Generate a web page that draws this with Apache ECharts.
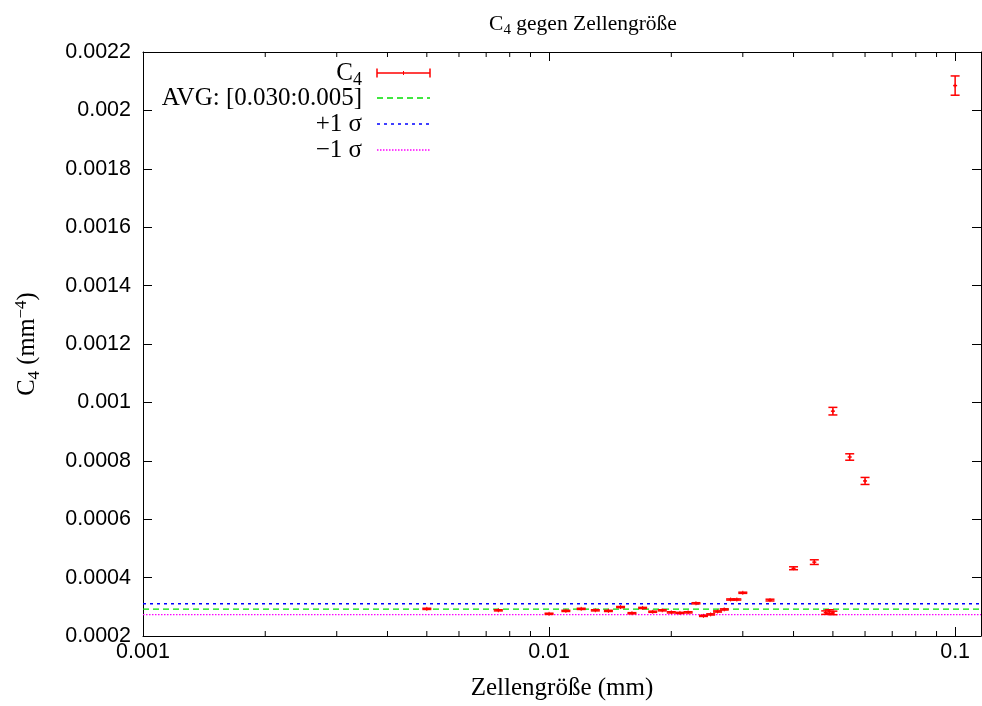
<!DOCTYPE html>
<html>
<head>
<meta charset="utf-8">
<script src="https://cdn.jsdelivr.net/npm/echarts@6/dist/echarts.min.js"></script>
<style>
  html, body { margin: 0; padding: 0; background: #fff; }
  #chart { width: 982px; height: 706px; }
</style>
</head>
<body>
<div id="chart"></div>
<script>
// Cell size (mm) and the fitted C4 coefficient with its uncertainty
const cellSizes = [0.005, 0.0075, 0.01, 0.011, 0.012, 0.013, 0.014, 0.015, 0.016, 0.017,
  0.018, 0.019, 0.02, 0.021, 0.022, 0.023, 0.024, 0.025, 0.026, 0.027, 0.028, 0.029, 0.03,
  0.035, 0.04, 0.045, 0.048, 0.049, 0.05, 0.05, 0.055, 0.06, 0.1];
const c4Values = [0.000293, 0.000288, 0.000276, 0.000286, 0.000293, 0.000288, 0.000286, 0.000299,
  0.000278, 0.000296, 0.000283, 0.000288, 0.000281, 0.000279, 0.000281, 0.000312, 0.000269,
  0.000274, 0.000284, 0.000291, 0.000325, 0.000325, 0.000348, 0.000323, 0.000432, 0.000453,
  0.000280, 0.000284, 0.000279, 0.000970, 0.000813, 0.000731, 0.002085];
const c4Errors = [0.000002, 0.000002, 0.000002, 0.000002, 0.000002, 0.000002, 0.000002, 0.000002,
  0.000002, 0.000002, 0.000002, 0.000002, 0.000002, 0.000002, 0.000002, 0.000002, 0.000002,
  0.000002, 0.000002, 0.000002, 0.000002, 0.000002, 0.000002, 0.000003, 0.000005, 0.000008,
  0.000006, 0.000006, 0.000006, 0.000013, 0.000011, 0.000012, 0.000033];

// Mean over the cell-size range [0.005 : 0.030] and its standard deviation
const avgC4 = 0.000292;
const sigmaC4 = 0.0000185;

// Axis ranges and ticks
const xMin = 0.001, xMax = 0.1158;
const yMin = 0.0002, yMax = 0.0022, yStep = 0.0002;
const xMajorTicks = [0.001, 0.01, 0.1];
const xMinorTicks = [0.002, 0.003, 0.004, 0.005, 0.006, 0.007, 0.008, 0.009,
  0.02, 0.03, 0.04, 0.05, 0.06, 0.07, 0.08, 0.09];

const SERIF = '"Liberation Serif", "DejaVu Serif", serif';
const SANS = '"Liberation Sans", Arial, sans-serif';
const RED = '#ff0000', GREEN = '#00e000', BLUE = '#0000ff', MAGENTA = '#ff00ff';

const chart = echarts.init(document.getElementById('chart'), null, { renderer: 'canvas' });

function fmtNum(v) {
  return String(parseFloat(Number(v).toPrecision(6)));
}
function fmtLogLabel(v) {
  for (const t of xMajorTicks) {
    if (Math.abs(v - t) / t < 1e-6) return fmtNum(t);
  }
  return '';
}

const errorData = cellSizes.map((x, i) => [x, c4Values[i], c4Errors[i]]);

function renderErrorBar(params, api) {
  const x = api.value(0), y = api.value(1), e = api.value(2);
  const c = api.coord([x, y]);
  const top = api.coord([x, y + e]);
  const bot = api.coord([x, y - e]);
  const hw = 4.5;
  const st = { stroke: RED, lineWidth: 1.5 };
  return {
    type: 'group',
    children: [
      { type: 'line', shape: { x1: c[0], y1: top[1], x2: c[0], y2: bot[1] }, style: st },
      { type: 'line', shape: { x1: c[0] - hw, y1: top[1], x2: c[0] + hw, y2: top[1] }, style: st },
      { type: 'line', shape: { x1: c[0] - hw, y1: bot[1], x2: c[0] + hw, y2: bot[1] }, style: st },
      { type: 'line', shape: { x1: c[0] - 2, y1: c[1], x2: c[0] + 2, y2: c[1] }, style: st },
      { type: 'line', shape: { x1: c[0], y1: c[1] - 2, x2: c[0], y2: c[1] + 2 }, style: { stroke: RED, lineWidth: 1 } }
    ]
  };
}

function renderMinorTick(params, api) {
  const x = api.value(0);
  const b = api.coord([x, yMin]);
  const t = api.coord([x, yMax]);
  const st = { stroke: '#000', lineWidth: 1 };
  return {
    type: 'group',
    children: [
      { type: 'line', shape: { x1: b[0], y1: b[1], x2: b[0], y2: b[1] - 5 }, style: st },
      { type: 'line', shape: { x1: t[0], y1: t[1], x2: t[0], y2: t[1] + 5 }, style: st }
    ]
  };
}

function hLine(value, color, dash, width) {
  return {
    type: 'line',
    data: [[xMin, value], [xMax, value]],
    symbol: 'none',
    silent: true,
    lineStyle: { color: color, type: dash, width: width },
    z: 2
  };
}

const axisCommonX = {
  type: 'log',
  logBase: 10,
  min: xMin,
  max: xMax,
  axisLine: { show: true, lineStyle: { color: '#000', width: 1 } },
  axisTick: { show: true, inside: true, length: 9, lineStyle: { color: '#000' } },
  splitLine: { show: false },
  minorTick: { show: false }
};
const axisCommonY = {
  type: 'value',
  min: yMin,
  max: yMax,
  interval: yStep,
  axisLine: { show: true, lineStyle: { color: '#000', width: 1 } },
  axisTick: { show: true, inside: true, length: 9, lineStyle: { color: '#000' } },
  splitLine: { show: false }
};

// Legend block drawn as text on the left, line sample on the right
const legendTextRight = 362;
const legendSampleX1 = 377, legendSampleX2 = 430;
const legendRows = [
  { y: 73, rich: 'C{sub|4}', color: RED, kind: 'err' },
  { y: 98, rich: 'AVG: [0.030:0.005]', color: GREEN, dash: [6, 4], width: 1.3 },
  { y: 124, rich: '+1 σ', color: BLUE, dash: [3, 4], width: 1.5 },
  { y: 150, rich: '−1 σ', color: MAGENTA, dash: [1.5, 1.5], width: 1.3 }
];
const legendRich = {
  sub: { fontFamily: SERIF, fontSize: 18, fill: '#000', padding: [14, 0, 0, 0] }
};
const legendGraphics = [];
legendRows.forEach(r => {
  legendGraphics.push({
    type: 'text',
    x: legendTextRight,
    y: r.y,
    style: {
      text: r.rich,
      fontFamily: SERIF,
      fontSize: 25,
      fill: '#000',
      align: 'right',
      verticalAlign: 'middle',
      rich: legendRich
    }
  });
  if (r.kind === 'err') {
    const st = { stroke: r.color, lineWidth: 1.5 };
    legendGraphics.push({ type: 'line', shape: { x1: legendSampleX1, y1: r.y, x2: legendSampleX2, y2: r.y }, style: st });
    legendGraphics.push({ type: 'line', shape: { x1: legendSampleX1, y1: r.y - 4.5, x2: legendSampleX1, y2: r.y + 4.5 }, style: st });
    legendGraphics.push({ type: 'line', shape: { x1: legendSampleX2, y1: r.y - 4.5, x2: legendSampleX2, y2: r.y + 4.5 }, style: st });
    const mid = (legendSampleX1 + legendSampleX2) / 2;
    legendGraphics.push({ type: 'line', shape: { x1: mid, y1: r.y - 2, x2: mid, y2: r.y + 2 }, style: { stroke: r.color, lineWidth: 1 } });
  } else {
    legendGraphics.push({
      type: 'line',
      shape: { x1: legendSampleX1, y1: r.y, x2: legendSampleX2, y2: r.y },
      style: { stroke: r.color, lineWidth: r.width, lineDash: r.dash }
    });
  }
});

const option = {
  backgroundColor: '#fff',
  animation: false,
  title: {
    text: 'C{sub|4} gegen Zellengröße',
    left: 578,
    textAlign: 'center',
    top: 6,
    textStyle: {
      fontFamily: SERIF,
      fontSize: 21.5,
      fontWeight: 'normal',
      color: '#000',
      rich: {
        sub: { fontFamily: SERIF, fontSize: 15, color: '#000', padding: [12, 0, 0, 0] }
      }
    }
  },
  grid: {
    left: 143,
    right: 1,
    top: 52,
    bottom: 68,
    show: false,
    containLabel: false
  },
  xAxis: [
    Object.assign({}, axisCommonX, {
      position: 'bottom',
      axisLabel: {
        formatter: fmtLogLabel,
        color: '#000',
        fontFamily: SANS,
        fontSize: 21.5,
        margin: 5,
        showMaxLabel: false
      },
      name: 'Zellengröße (mm)',
      nameLocation: 'middle',
      nameGap: 40,
      nameTextStyle: { fontFamily: SERIF, fontSize: 25, color: '#000' }
    }),
    Object.assign({}, axisCommonX, {
      position: 'top',
      axisLabel: { show: false }
    })
  ],
  yAxis: [
    Object.assign({}, axisCommonY, {
      position: 'left',
      axisLabel: {
        formatter: fmtNum,
        color: '#000',
        fontFamily: SANS,
        fontSize: 21.5,
        margin: 12
      },
      name: 'C{sub|4} (mm{sup|−4})',
      nameLocation: 'middle',
      nameRotate: 90,
      nameGap: 100,
      nameTextStyle: {
        fontFamily: SERIF,
        fontSize: 24.5,
        color: '#000',
        rich: {
          sub: { fontFamily: SERIF, fontSize: 17, color: '#000', padding: [14, 0, 0, 0] },
          sup: { fontFamily: SERIF, fontSize: 17, color: '#000', padding: [0, 0, 12, 0] }
        }
      }
    }),
    Object.assign({}, axisCommonY, {
      position: 'right',
      axisLabel: { show: false }
    })
  ],
  graphic: legendGraphics,
  series: [
    hLine(avgC4, GREEN, [6, 4], 1.3),
    hLine(avgC4 + sigmaC4, BLUE, [3, 4], 1.5),
    hLine(avgC4 - sigmaC4, MAGENTA, [1.5, 1.5], 1.3),
    {
      type: 'custom',
      name: 'C4',
      data: errorData,
      renderItem: renderErrorBar,
      encode: { x: 0, y: 1 },
      silent: true,
      z: 5
    },
    {
      type: 'custom',
      name: 'minor ticks',
      data: xMinorTicks.map(v => [v, yMin]),
      renderItem: renderMinorTick,
      encode: { x: 0, y: 1 },
      silent: true,
      z: 6
    }
  ]
};

chart.setOption(option);
</script>
</body>
</html>
